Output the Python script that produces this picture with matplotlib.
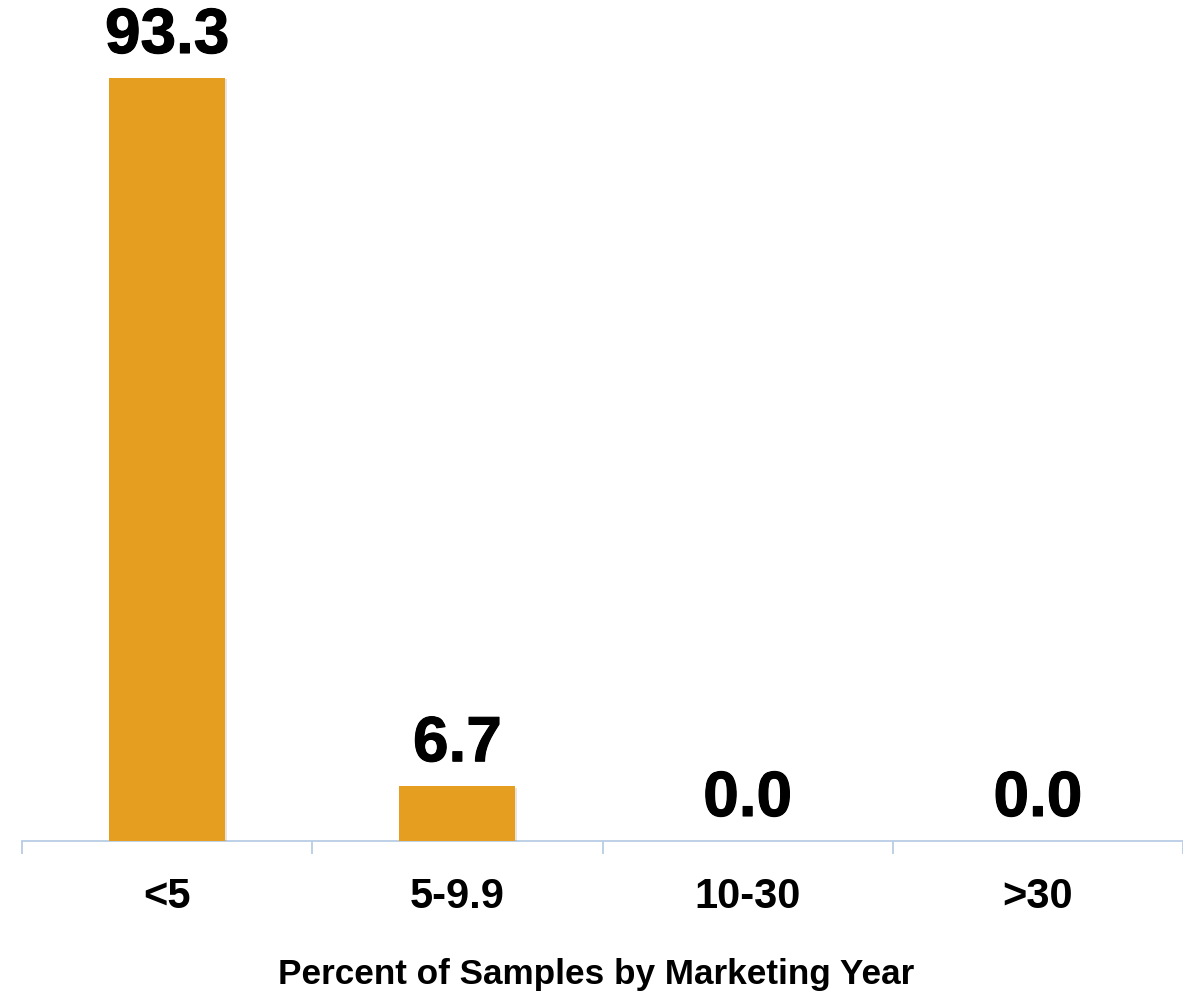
import matplotlib
matplotlib.use("Agg")
import matplotlib.pyplot as plt
import matplotlib.patheffects as pe

categories = ["<5", "5-9.9", "10-30", ">30"]
percent = [93.3, 6.7, 0.0, 0.0]
x_title = "Percent of Samples by Marketing Year"

W, H, DPI = 1183, 995, 100
fig = plt.figure(figsize=(W / DPI, H / DPI), dpi=DPI)
ax = fig.add_axes([22 / W, (H - 842) / H, (W - 22) / W, 842 / H])

bar_color = "#E59E1F"
axis_color = "#B9CDE5"

xs = list(range(len(categories)))
bars = ax.bar(xs, percent, width=0.40, color=bar_color, zorder=3,
              path_effects=[pe.SimplePatchShadow(offset=(1.0, -1.0), alpha=0.12),
                            pe.Normal()])

ax.set_xlim(-0.5, len(categories) - 0.5)
ax.set_ylim(0, 102.96)

for x, v in zip(xs, percent):
    ax.annotate(f"{v:.1f}", (x, v), xytext=(0, 18), textcoords="offset points",
                ha="center", va="baseline", fontsize=46, fontweight="bold",
                family="Liberation Sans", color="black",
                path_effects=[pe.withStroke(linewidth=0.8, foreground="black")])

# category boundaries carry the tick marks, labels sit at the bar centres
ax.set_xticks([i - 0.5 for i in range(len(categories) + 1)])
ax.set_xticklabels([])
ax.set_xticks(xs, minor=True)
ax.set_xticklabels(categories, minor=True, fontsize=30, fontweight="bold",
                   family="Liberation Sans")
ax.tick_params(axis="x", which="major", length=9.5, width=1.3,
               color=axis_color, direction="out")
ax.tick_params(axis="x", which="minor", length=0, pad=25)
ax.set_yticks([])

for side in ["top", "right", "left"]:
    ax.spines[side].set_visible(False)
ax.spines["bottom"].set_color(axis_color)
ax.spines["bottom"].set_linewidth(1.3)

ax.set_xlabel(x_title, fontsize=25.3, fontweight="bold", family="Liberation Sans")
ax.xaxis.label.set_va("center")
ax.xaxis.set_label_coords((596.5 - 22) / (W - 22), -(975 - 842) / 842)

fig.savefig("out.png", dpi=DPI)
